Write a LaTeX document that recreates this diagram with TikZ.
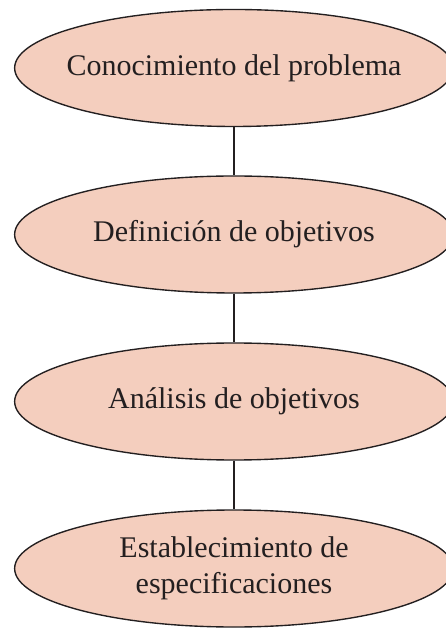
\documentclass[tikz,border=0pt]{standalone}
\usepackage{fontspec}
\setmainfont{Liberation Serif}
\definecolor{salmon}{RGB}{244,206,190}
\definecolor{ink}{RGB}{35,31,32}
\tikzset{
  etapa/.style={ellipse,draw=ink,line width=0.55pt,fill=salmon,
    minimum width=175.5pt,minimum height=46.8pt,inner xsep=-25pt,inner ysep=0pt,
    align=center,font=\fontsize{12}{14.4}\selectfont,text=ink},
  liga/.style={draw=ink,line width=0.55pt}
}
\usetikzlibrary{shapes.geometric}
\begin{document}
\begin{tikzpicture}[x=0.4pt,y=-0.4pt]
            \useasboundingbox (0,0) rectangle (445,630);
            \node[etapa] (conocimiento) at (234,68) {Conocimiento del problema};
            \node[etapa] (definicion) at (234,234.5) {Definición de objetivos};
            \node[etapa] (analisis) at (234,401.5) {Análisis de objetivos};
            \node[etapa] (especificaciones) at (234,568.5) {Establecimiento de\\especificaciones};
            \draw[liga] (conocimiento)--(definicion);
            \draw[liga] (definicion)--(analisis);
            \draw[liga] (analisis)--(especificaciones);
            \end{tikzpicture}
\end{document}
